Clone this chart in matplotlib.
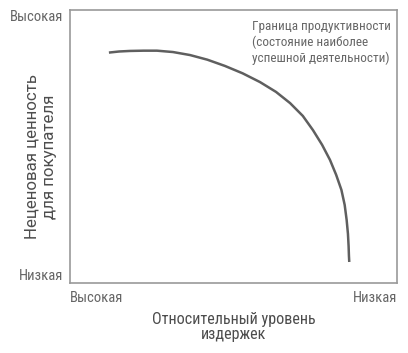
import matplotlib
matplotlib.use("Agg")
import matplotlib.pyplot as plt

# frontier curve (relative cost, value)
cost = [0.119, 0.150, 0.183, 0.225, 0.266, 0.315, 0.367, 0.420, 0.474, 0.528,
        0.581, 0.630, 0.673, 0.712, 0.743, 0.771, 0.795, 0.814, 0.830, 0.840,
        0.846, 0.850, 0.852, 0.853, 0.854]
value = [0.844, 0.848, 0.850, 0.851, 0.851, 0.846, 0.835, 0.818, 0.795, 0.768,
         0.736, 0.700, 0.659, 0.612, 0.560, 0.506, 0.451, 0.396, 0.341, 0.286,
         0.231, 0.180, 0.135, 0.100, 0.077]

y_ticks = ["Низкая", "Высокая"]
x_ticks = ["Высокая", "Низкая"]
note = "Граница продуктивности\n(состояние наиболее\nуспешной деятельности)"
x_title = "Относительный уровень\nиздержек"
y_title = "Неценовая ценность\nдля покупателя"

plt.rcParams['font.family'] = ['Roboto Condensed', 'DejaVu Sans']

fig = plt.figure(figsize=(4.08, 3.53), dpi=100)
ax = fig.add_axes([70/408, 1-283/353, 327/408, 273/353])
ax.plot(cost, value, color="#5f5f5f", lw=1.8, solid_capstyle="butt")
ax.set_xlim(0, 1)
ax.set_ylim(0, 1)
for s in ax.spines.values():
    s.set_color("#999999")
    s.set_linewidth(1.2)
ax.set_xticks([])
ax.set_yticks([])

gray = "#666666"
ax.text(-0.02, 0.0, y_ticks[0], transform=ax.transAxes, ha="right", va="bottom",
        fontsize=10.5, color=gray)
ax.text(-0.02, 1.0, y_ticks[1], transform=ax.transAxes, ha="right", va="top",
        fontsize=10.5, color=gray)
ax.text(0.0, -0.03, x_ticks[0], transform=ax.transAxes, ha="left", va="top",
        fontsize=10.5, color=gray)
ax.text(1.0, -0.03, x_ticks[1], transform=ax.transAxes, ha="right", va="top",
        fontsize=10.5, color=gray)
ax.text(0.557, 0.965, note, transform=ax.transAxes, ha="left", va="top",
        fontsize=9.5, color=gray, linespacing=1.25)
ax.text(0.5, -0.108, x_title, transform=ax.transAxes, ha="center", va="top",
        fontsize=11.6, color="#4d4d4d", linespacing=1.0)
ax.text(-0.089, 0.463, y_title, transform=ax.transAxes, ha="center", va="center",
        rotation=90, fontsize=12.2, family=['Roboto', 'DejaVu Sans'],
        color="#4d4d4d", linespacing=1.2)

fig.savefig("out.png", dpi=100)
